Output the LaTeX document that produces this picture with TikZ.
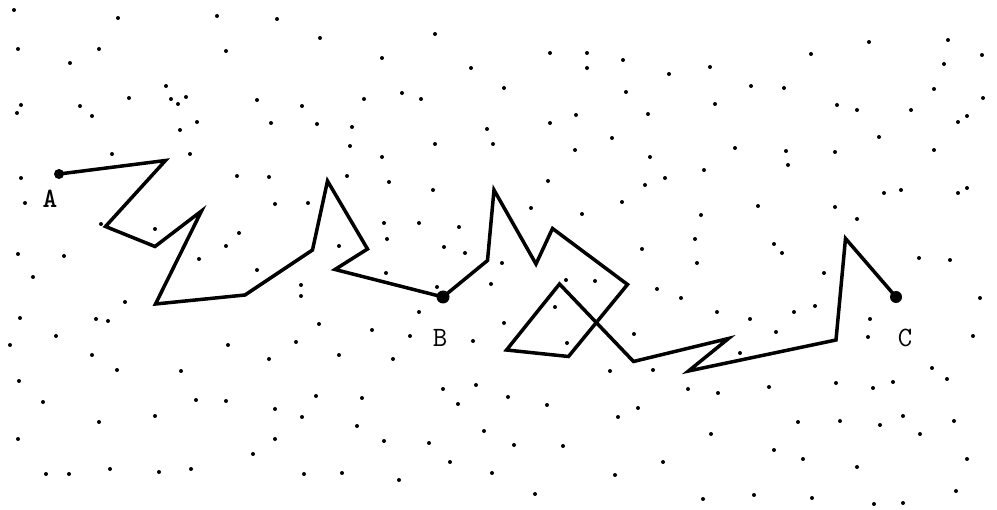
\documentclass[tikz,border=0pt]{standalone}
\usepackage{fontspec}
\begin{document}
\begin{tikzpicture}[x=1pt,y=-1pt,
  pathline/.style={line width=3.5pt,line join=miter,miter limit=6},
  speck/.style={fill=black},
  enddot/.style={fill=black},
  lbl/.style={font=\ttfamily\fontsize{28}{28}\selectfont,inner sep=0pt}]
\useasboundingbox (0,0) rectangle (997,510);
% scattered points
\foreach \x/\y in {14/10,118/18,217/16,277/19,320/38,435/34,18/49,99/49,70/63,226/51,382/58,471/68,166/86,171/99,186/97,178/104,129/98,21/105,17/113,80/106,92/116,257/100,302/106,364/99,402/93,421/99,197/122,180/130,271/123,317/124,352/127,487/129,493/144,350/146,435/144,382/157,112/154,190/154,
550/53,587/53,587/68,623/60,669/74,710/67,811/54,869/42,948/40,982/55,944/64,504/88,626/92,751/86,784/88,934/89,983/98,715/104,837/105,857/110,911/110,967/116,958/122,576/115,550/123,648/114,612/138,575/150,650/157,735/148,786/151,835/152,879/137,934/150,788/165,704/170,
21/178,25/203,237/176,269/177,347/176,389/182,433/190,275/204,308/203,101/224,155/229,239/233,226/246,339/246,384/223,419/223,459/227,387/239,444/247,465/253,18/254,64/256,199/259,33/277,257/270,386/273,491/284,301/285,301/296,437/287,125/302,20/318,96/319,108/321,319/324,419/312,56/336,372/330,410/336,
548/181,665/178,645/185,622/202,582/214,531/208,502/263,758/206,701/215,835/207,884/193,901/190,857/219,695/239,642/249,774/244,782/253,697/263,919/258,824/273,657/289,681/298,566/280,595/281,555/307,504/323,473/341,567/343,717/312,750/319,794/312,815/306,870/319,776/332,868/337,634/334,740/353,610/371,653/370,443/389,476/385,688/389,769/387,836/383,893/382,873/388,
958/193,967/188,950/260,980/298,973/336,
10/345,92/355,117/370,181/371,228/345,296/342,269/359,339/355,393/359,19/381,43/402,196/400,226/401,155/416,99/422,275/409,316/396,302/417,362/398,458/404,18/439,275/439,253/454,357/426,384/441,429/443,484/431,450/462,46/474,69/474,110/469,159/472,191/469,304/474,342/473,399/480,492/473,
932/368,947/379,718/393,508/397,547/405,618/417,638/408,711/434,798/422,840/421,880/425,903/416,954/421,920/434,514/445,563/446,663/462,774/450,803/459,857/467,967/459,615/475,535/494,703/499,754/495,812/498,874/504,903/503,956/491}
  \fill[speck] (\x,\y) circle (2pt);
% path vertices
\coordinate (A) at (59,174);
\coordinate (p1) at (165.5,160.5);
\coordinate (p2) at (105.5,226.5);
\coordinate (p3) at (155,246.5);
\coordinate (p4) at (201.5,211);
\coordinate (p5) at (155.5,304);
\coordinate (p6) at (245,295);
\coordinate (p7) at (312.5,250);
\coordinate (p8) at (327.5,181);
\coordinate (p9) at (367.5,249);
\coordinate (p10) at (335,269.5);
\coordinate (B) at (443,297);
\coordinate (p11) at (487.5,260.5);
\coordinate (p12) at (494,190);
\coordinate (p13) at (536,264);
\coordinate (p14) at (552.5,228.5);
\coordinate (p15) at (627.5,284.5);
\coordinate (p16) at (568.5,356.5);
\coordinate (p17) at (506.5,350);
\coordinate (p18) at (559.5,284);
\coordinate (p19) at (633.5,361.5);
\coordinate (p20) at (728.5,338.5);
\coordinate (p21) at (688.5,371);
\coordinate (p22) at (836,340);
\coordinate (p23) at (845.5,238.5);
\coordinate (C) at (896,297);
\draw[pathline] (A) -- (p1) -- (p2) -- (p3) -- (p4) -- (p5) -- (p6) -- (p7) -- (p8) -- (p9) -- (p10) -- (B)
  -- (p11) -- (p12) -- (p13) -- (p14) -- (p15) -- (p16) -- (p17) -- (p18) -- (p19) -- (p20) -- (p21) -- (p22) -- (p23) -- (C);
\fill[enddot] (A) circle (5pt);
\fill[enddot] (B) circle (6.5pt);
\fill[enddot] (C) circle (6pt);
\node[lbl,font=\ttfamily\bfseries\fontsize{28}{28}\selectfont] (la) at (50,199) {A};
\node[lbl] (lb) at (440,338) {B};
\node[lbl] (lc) at (905,338) {C};
\end{tikzpicture}
\end{document}
